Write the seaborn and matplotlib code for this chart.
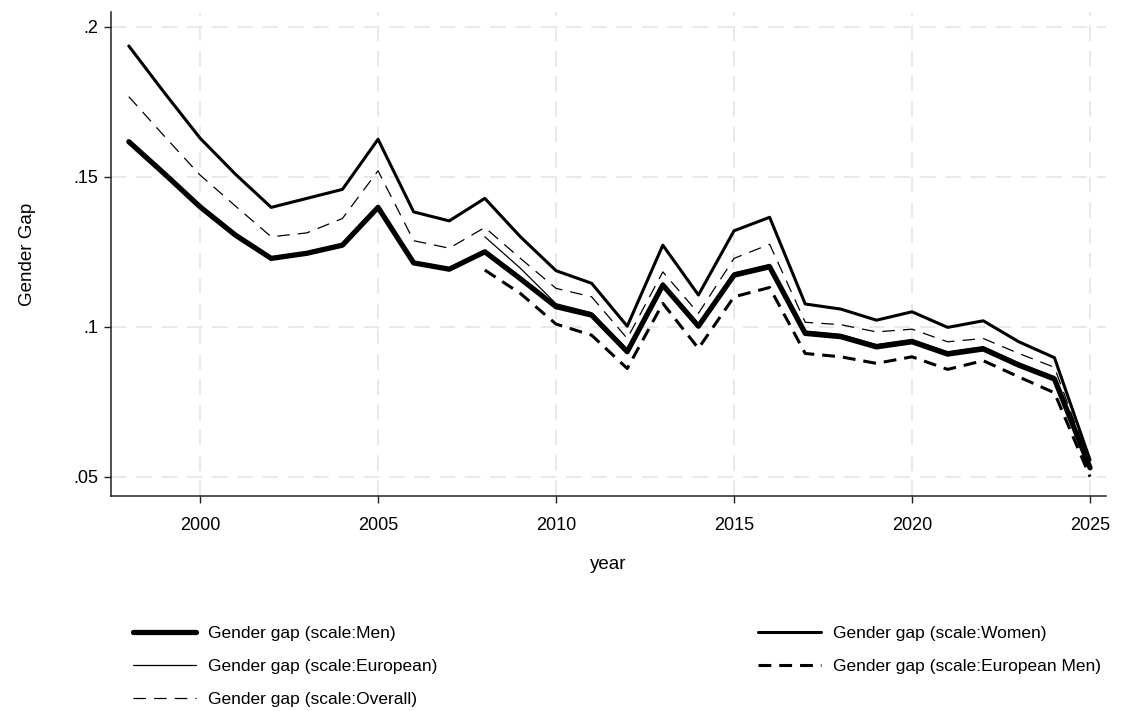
import numpy as np
import pandas as pd
import matplotlib
matplotlib.use("Agg")
import matplotlib.pyplot as plt
from matplotlib.ticker import FuncFormatter
import seaborn as sns

# values
years = list(range(1998, 2026))
gap_men = [0.1617, 0.151, 0.140, 0.1305, 0.1228, 0.1245, 0.1272, 0.1398, 0.1213, 0.1192,
           0.1250, 0.1160, 0.1067, 0.1039, 0.0917, 0.1139, 0.1002, 0.1172, 0.1200, 0.0978,
           0.0967, 0.0933, 0.0950, 0.0909, 0.0926, 0.0872, 0.0826, 0.0530]
gap_women = [0.1936, 0.178, 0.1629, 0.1508, 0.1398, 0.1428, 0.1458, 0.1625, 0.1383, 0.1353,
             0.1428, 0.1300, 0.1187, 0.1145, 0.1002, 0.1272, 0.1106, 0.1320, 0.1365, 0.1076,
             0.1059, 0.1022, 0.1050, 0.0998, 0.1020, 0.0950, 0.0897, 0.0556]
gap_european = [np.nan] * 10 + [0.1300, 0.1195, 0.1077, 0.1047, 0.0925, 0.1147, 0.1010,
                                0.1180, 0.1208, 0.0986, 0.0975, 0.0941, 0.0958, 0.0917,
                                0.0934, 0.0880, 0.0834, 0.0538]
gap_european_men = [np.nan] * 10 + [0.1189, 0.1111, 0.1009, 0.0972, 0.0861, 0.1078, 0.0928,
                                    0.1100, 0.1131, 0.0911, 0.0900, 0.0878, 0.0900, 0.0858,
                                    0.0887, 0.0833, 0.0780, 0.0500]
gap_overall = [0.1767, 0.1635, 0.1506, 0.1402, 0.1300, 0.1313, 0.1361, 0.1520, 0.1287, 0.1262,
               0.1331, 0.1228, 0.1128, 0.1100, 0.0961, 0.1183, 0.1045, 0.1228, 0.1275, 0.1015,
               0.1007, 0.0983, 0.0992, 0.0950, 0.0961, 0.0911, 0.0865, 0.0540]

labels = ["Gender gap (scale:Men)", "Gender gap (scale:Women)",
          "Gender gap (scale:European)", "Gender gap (scale:European Men)",
          "Gender gap (scale:Overall)"]

sns.set_style("ticks")
plt.rcParams['font.family'] = ['Liberation Sans', 'DejaVu Sans']
plt.rcParams['text.color'] = 'black'
plt.rcParams['axes.labelcolor'] = 'black'
plt.rcParams['xtick.color'] = 'black'
plt.rcParams['ytick.color'] = 'black'

fig = plt.figure(figsize=(11.27, 7.11), dpi=100)
ax = fig.add_axes([0.0982, 0.3024, 0.8829, 0.6806])

series = [gap_men, gap_women, gap_european, gap_european_men, gap_overall]
styles = [
    dict(linewidth=3.8),
    dict(linewidth=2.2),
    dict(linewidth=0.9),
    dict(linewidth=2.2, dashes=(4.2, 2.6)),
    dict(linewidth=0.9, dashes=(10, 6.5)),
]

lines = []
for vals, lab, st in zip(series, labels, styles):
    df = pd.DataFrame({"year": years, "gap": vals})
    sns.lineplot(data=df, x="year", y="gap", ax=ax, color="black", label=lab, **st)
    lines.append(ax.lines[-1])
ax.get_legend().remove()

ax.set_xlim(1997.49, 2025.44)
ax.set_ylim(0.0436, 0.2049)
ax.set_xticks([2000, 2005, 2010, 2015, 2020, 2025])
ax.set_yticks([0.05, 0.1, 0.15, 0.2])
ax.yaxis.set_major_formatter(FuncFormatter(lambda v, p: f"{v:g}".lstrip("0")))

ax.grid(True, color="#e9e9e9", linestyle=(0, (8, 5)), linewidth=1.4)
ax.set_axisbelow(True)
for s in ["top", "right"]:
    ax.spines[s].set_visible(False)
for s in ["left", "bottom"]:
    ax.spines[s].set_color("#222222")
    ax.spines[s].set_linewidth(1.1)
ax.tick_params(axis="both", length=5, width=1, color="#222222", labelsize=13)
ax.tick_params(axis="x", pad=10)
ax.tick_params(axis="y", pad=4)

ax.set_xlabel("year", fontsize=13.5, labelpad=16)
ax.set_ylabel("Gender Gap", fontsize=13.5, labelpad=27)

# stata fills the legend row by row, matplotlib column by column
order = [0, 2, 4, 1, 3]
fig.legend([lines[i] for i in order], [labels[i] for i in order],
           loc="upper left", bbox_to_anchor=(0.112, 0.13), ncol=2,
           frameon=False, fontsize=12.5, handlelength=3.6, handletextpad=0.7,
           columnspacing=18.5, labelspacing=1.05, borderaxespad=0)

fig.savefig("out.png", dpi=100)
